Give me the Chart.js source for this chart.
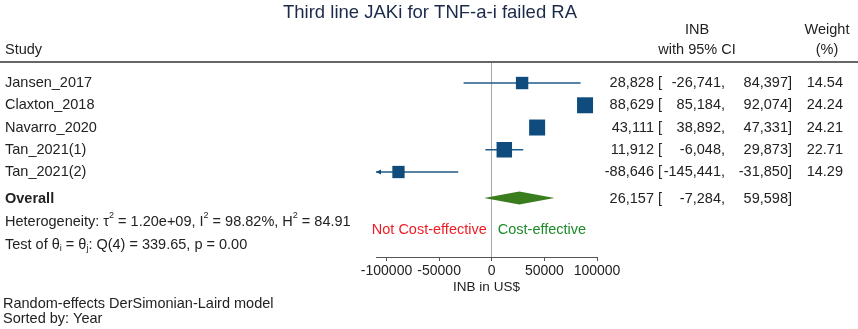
<!DOCTYPE html>
<html>
<head>
<meta charset="utf-8">
<script src="https://cdn.jsdelivr.net/npm/chart.js@4/dist/chart.umd.min.js"></script>
<style>
  html, body { margin: 0; padding: 0; background: #fff; }
  canvas { display: block; }
</style>
</head>
<body>
<canvas id="forest" width="858" height="329"></canvas>
<script>
'use strict';

/* --------------------------------------------------------------------------
   DATA
   -------------------------------------------------------------------------- */
const studies   = ['Jansen_2017', 'Claxton_2018', 'Navarro_2020', 'Tan_2021(1)', 'Tan_2021(2)'];
const estimates = [28828, 88629, 43111, 11912, -88646];
const lowerCI   = [-26741, 85184, 38892, -6048, -145441];
const upperCI   = [84397, 92074, 47331, 29873, -31850];
const weights   = [14.54, 24.24, 24.21, 22.71, 14.29];
const overall   = { est: 26157, lo: -7284, hi: 59598 };
const xTicks    = [-100000, -50000, 0, 50000, 100000];

const ROW_OVERALL = 6.17;
const FONT = '"Liberation Sans", Arial, sans-serif';
const BLUE = '#0f4c7d';
const GREEN = '#3a7d1e';

const fmt = v => v.toLocaleString('en-US');

/* --------------------------------------------------------------------------
   DIAMOND, ARROW, AXIS LINE (drawn through chart scales)
   -------------------------------------------------------------------------- */
const markPlugin = {
    id: 'marks',
    afterDatasetsDraw(chart) {
        const { ctx, scales: { x, y }, chartArea } = chart;
        ctx.save();
        // axis line limited to the plot range
        ctx.strokeStyle = '#555';
        ctx.lineWidth = 1;
        ctx.beginPath();
        ctx.moveTo(chartArea.left, Math.round(chartArea.bottom) + 0.5);
        ctx.lineTo(chartArea.right, Math.round(chartArea.bottom) + 0.5);
        ctx.stroke();

        // overall diamond
        const yc = y.getPixelForValue(ROW_OVERALL);
        const h = 6.5;
        ctx.fillStyle = GREEN;
        ctx.beginPath();
        ctx.moveTo(x.getPixelForValue(overall.lo), yc);
        ctx.lineTo(x.getPixelForValue(overall.est), yc - h);
        ctx.lineTo(x.getPixelForValue(overall.hi), yc);
        ctx.lineTo(x.getPixelForValue(overall.est), yc + h);
        ctx.closePath();
        ctx.fill();

        // arrowheads where a CI is clipped by the axis range
        ctx.fillStyle = BLUE;
        lowerCI.forEach((lo, i) => {
            if (lo < x.min) {
                const py = y.getPixelForValue(i + 1);
                const px = chartArea.left;
                ctx.beginPath();
                ctx.moveTo(px, py);
                ctx.lineTo(px + 5, py - 2.5);
                ctx.lineTo(px + 5, py + 2.5);
                ctx.closePath();
                ctx.fill();
            }
        });
        ctx.restore();
    },
};

/* --------------------------------------------------------------------------
   TABLE TEXT
   -------------------------------------------------------------------------- */
function runs(ctx, x, y, parts) {
    // parts: [text, 'n' | 'sup' | 'sub']
    let cx = x;
    parts.forEach(([t, kind]) => {
        if (kind === 'n') {
            ctx.font = '14.5px ' + FONT;
            ctx.fillText(t, cx, y);
        } else {
            ctx.font = '9px ' + FONT;
            ctx.fillText(t, cx, kind === 'sup' ? y - 6 : y + 4);
        }
        cx += ctx.measureText(t).width;
    });
}

const textPlugin = {
    id: 'tableText',
    afterDraw(chart) {
        const { ctx, scales: { x, y }, chartArea } = chart;
        ctx.save();
        ctx.textBaseline = 'middle';

        // title
        ctx.fillStyle = '#1c2a4a';
        ctx.font = '18.5px ' + FONT;
        ctx.textAlign = 'center';
        ctx.fillText('Third line JAKi for TNF-a-i failed RA', 430, 13);

        // headers
        ctx.fillStyle = '#222';
        ctx.font = '14.5px ' + FONT;
        ctx.textAlign = 'left';
        ctx.fillText('Study', 5, 50);
        ctx.textAlign = 'center';
        ctx.fillText('INB', 697, 30);
        ctx.fillText('with 95% CI', 697, 50);
        ctx.fillText('Weight', 827, 30);
        ctx.fillText('(%)', 827, 50);

        // header rule
        ctx.strokeStyle = '#333';
        ctx.lineWidth = 1.5;
        ctx.beginPath();
        ctx.moveTo(0, 62);
        ctx.lineTo(858, 62);
        ctx.stroke();

        // study rows
        studies.forEach((s, i) => {
            const py = y.getPixelForValue(i + 1);
            ctx.textAlign = 'left';
            ctx.fillText(s, 5, py);
            ctx.textAlign = 'right';
            ctx.fillText(fmt(estimates[i]) + ' [', 662, py);
            ctx.fillText(fmt(lowerCI[i]) + ',', 725, py);
            ctx.fillText(fmt(upperCI[i]) + ']', 792, py);
            ctx.fillText(weights[i].toFixed(2), 843, py);
        });

        // overall row
        const oy = y.getPixelForValue(ROW_OVERALL) + 1;
        ctx.textAlign = 'left';
        ctx.font = 'bold 14.5px ' + FONT;
        ctx.fillText('Overall', 5, oy);
        ctx.font = '14.5px ' + FONT;
        ctx.textAlign = 'right';
        ctx.fillText(fmt(overall.est) + ' [', 662, oy);
        ctx.fillText(fmt(overall.lo) + ',', 725, oy);
        ctx.fillText(fmt(overall.hi) + ']', 792, oy);

        // heterogeneity lines
        ctx.textAlign = 'left';
        runs(ctx, 5, 222, [
            ['Heterogeneity: \u03c4', 'n'], ['2', 'sup'], [' = 1.20e+09, I', 'n'], ['2', 'sup'],
            [' = 98.82%, H', 'n'], ['2', 'sup'], [' = 84.91', 'n'],
        ]);
        runs(ctx, 5, 245, [
            ['Test of \u03b8', 'n'], ['i', 'sub'], [' = \u03b8', 'n'], ['j', 'sub'],
            [': Q(4) = 339.65, p = 0.00', 'n'],
        ]);

        // region labels
        const zx = x.getPixelForValue(0);
        ctx.font = '14.5px ' + FONT;
        ctx.textAlign = 'right';
        ctx.fillStyle = '#ee1c25';
        ctx.fillText('Not Cost-effective', zx - 5, 230);
        ctx.textAlign = 'left';
        ctx.fillStyle = '#1e8a2a';
        ctx.fillText('Cost-effective', zx + 6, 230);

        // axis title
        ctx.fillStyle = '#222';
        ctx.font = '13.5px ' + FONT;
        ctx.textAlign = 'center';
        ctx.fillText('INB in US$', (chartArea.left + chartArea.right) / 2, 287);

        // footnotes
        ctx.font = '14.5px ' + FONT;
        ctx.textAlign = 'left';
        ctx.fillText('Random-effects DerSimonian-Laird model', 3, 304);
        ctx.fillText('Sorted by: Year', 3, 319);
        ctx.restore();
    },
};

/* --------------------------------------------------------------------------
   CHART
   -------------------------------------------------------------------------- */
const ciSets = studies.map((s, i) => ({
    type: 'line',
    label: s + ' CI',
    data: [{ x: lowerCI[i], y: i + 1 }, { x: upperCI[i], y: i + 1 }],
    borderColor: '#1f5a8a',
    borderWidth: 1.3,
    pointRadius: 0,
    order: 2,
}));

const squareSet = {
    type: 'scatter',
    label: 'INB',
    data: estimates.map((v, i) => ({ x: v, y: i + 1 })),
    pointStyle: 'rect',
    pointRadius: weights.map(w => 16 * Math.sqrt(w / 24.24) / Math.SQRT2),
    pointHoverRadius: weights.map(w => 16 * Math.sqrt(w / 24.24) / Math.SQRT2),
    backgroundColor: BLUE,
    borderWidth: 0,
    order: 1,
};

new Chart(document.getElementById('forest').getContext('2d'), {
    type: 'scatter',
    data: { datasets: [squareSet, ...ciSets] },
    plugins: [markPlugin, textPlugin],
    options: {
        responsive: false,
        devicePixelRatio: 1,
        animation: false,
        layout: { padding: { left: 376, right: 261, top: 63, bottom: 0 } },
        plugins: { legend: { display: false }, tooltip: { enabled: false } },
        scales: {
            x: {
                type: 'linear',
                min: -110000,
                max: 100000,
                afterBuildTicks: s => { s.ticks = xTicks.map(v => ({ value: v })); },
                afterFit: s => { s.height = 72; },
                ticks: {
                    callback: v => String(v),
                    color: '#222',
                    font: { family: FONT, size: 14 },
                    padding: 2,
                    maxRotation: 0,
                    autoSkip: false,
                },
                grid: {
                    drawOnChartArea: true,
                    color: c => (c.tick && c.tick.value === 0 ? '#a8a8a8' : 'transparent'),
                    tickColor: '#555',
                    tickLength: 4,
                },
                border: { display: false },
            },
            y: {
                type: 'linear',
                display: false,
                reverse: true,
                min: 0.1,
                max: 8.82,
            },
        },
    },
});
</script>
</body>
</html>
